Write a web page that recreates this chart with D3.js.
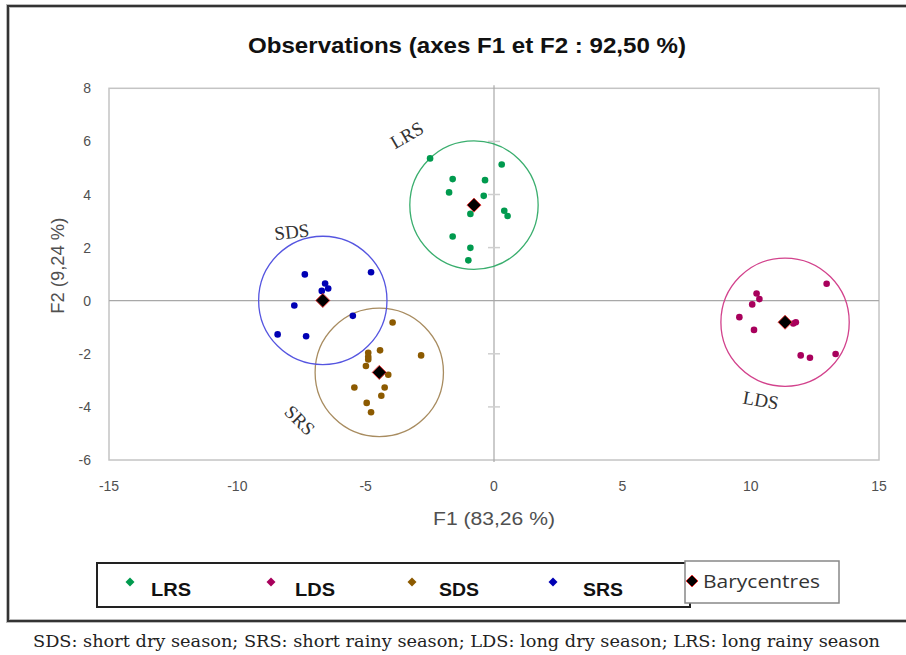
<!DOCTYPE html>
<html>
<head>
<meta charset="utf-8">
<script src="https://cdn.jsdelivr.net/npm/d3@7"></script>
<style>
  body { margin: 0; background: #fff; }
  svg { display: block; }
</style>
</head>
<body>
<div id="chart"></div>
<script>
// DATA (F1, F2 coordinates)
const groups = ['LRS', 'LDS', 'SDS', 'SRS'];

const lrsPoints = [
  [-2.49, 5.36], [0.30, 5.13], [-1.61, 4.58], [-0.35, 4.54], [-1.75, 4.08],
  [-0.40, 3.95], [-0.92, 3.27], [0.40, 3.39], [0.53, 3.19], [-1.61, 2.42],
  [-0.92, 1.99], [-1.00, 1.52]
];
const ldsPoints = [
  [12.96, 0.64], [10.23, 0.27], [10.34, 0.06], [10.06, -0.14], [9.56, -0.62],
  [10.13, -1.10], [11.76, -0.81], [11.66, -0.86], [11.95, -2.06], [12.31, -2.15],
  [13.31, -2.01]
];
const sdsPoints = [
  [-3.95, -0.82], [-4.44, -1.87], [-4.90, -1.96], [-4.90, -2.11], [-4.90, -2.21],
  [-2.84, -2.06], [-4.99, -2.46], [-4.12, -2.79], [-5.44, -3.27], [-4.26, -3.27],
  [-4.39, -3.58], [-4.96, -3.85], [-4.79, -4.20]
];
const srsPoints = [
  [-7.37, 0.99], [-4.79, 1.07], [-6.58, 0.65], [-6.46, 0.46], [-6.71, 0.37],
  [-7.78, -0.18], [-5.50, -0.57], [-8.43, -1.27], [-7.32, -1.34]
];
const barycentres = [[-0.78, 3.60], [11.34, -0.81], [-4.47, -2.70], [-6.67, 0.01]];
const circleRadius = 2.5; // in F1 units

// labels written next to the circles (as they appear on the picture)
const circleLabels = [
  { text: 'LRS', f1: -3.40, f2: 6.24, angle: -30 },
  { text: 'SDS', f1: -7.88, f2: 2.60, angle: -6 },
  { text: 'SRS', f1: -7.56, f2: -4.50, angle: 45 },
  { text: 'LDS', f1: 10.40, f2: -3.74, angle: 10 }
];

const xTicks = [-15, -10, -5, 0, 5, 10, 15];
const yTicks = [-6, -4, -2, 0, 2, 4, 6, 8];
const legendItems = ['LRS', 'LDS', 'SDS', 'SRS'];

const pointsByGroup = [lrsPoints, ldsPoints, sdsPoints, srsPoints];
const pointColors = ['#009a4e', '#a8005c', '#8c5a00', '#0000b4'];
const circleColors = ['#3aae6e', '#d2428c', '#a88c60', '#5555e0'];

const width = 906;
const height = 655;

const svg = d3
  .select('#chart')
  .append('svg')
  .attr('width', width)
  .attr('height', height);

// OUTER FRAME
svg
  .append('rect')
  .attr('x', 8)
  .attr('y', 6)
  .attr('width', width + 10)
  .attr('height', 615)
  .attr('fill', 'none')
  .attr('stroke', '#bbb')
  .attr('stroke-width', 4);
svg
  .append('rect')
  .attr('x', 8)
  .attr('y', 6)
  .attr('width', width + 10)
  .attr('height', 615)
  .attr('fill', 'none')
  .attr('stroke', '#333')
  .attr('stroke-width', 2);

// TITLE
svg
  .append('text')
  .attr('x', 467)
  .attr('y', 53)
  .attr('text-anchor', 'middle')
  .attr('font-family', 'Liberation Sans, Arial, sans-serif')
  .attr('font-weight', 'bold')
  .attr('font-size', 22)
  .attr('textLength', 438)
  .attr('lengthAdjust', 'spacingAndGlyphs')
  .attr('fill', '#111')
  .text('Observations (axes F1 et F2 : 92,50 %)');

// SCALES
const x = d3.scaleLinear().domain([-15, 15]).range([109, 879]);
const y = d3.scaleLinear().domain([-6, 8]).range([460, 88.3]);

const plot = svg.append('g');

// plot frame
plot
  .append('rect')
  .attr('x', x(-15))
  .attr('y', y(8))
  .attr('width', x(15) - x(-15))
  .attr('height', y(-6) - y(8))
  .attr('fill', 'none')
  .attr('stroke', '#c4c4c4')
  .attr('stroke-width', 1.5);

// zero lines
plot
  .append('line')
  .attr('x1', x(-15))
  .attr('x2', x(15))
  .attr('y1', y(0))
  .attr('y2', y(0))
  .attr('stroke', '#a8a8a8')
  .attr('stroke-width', 1.2);
plot
  .append('line')
  .attr('x1', x(0))
  .attr('x2', x(0))
  .attr('y1', y(8) - 3)
  .attr('y2', y(-6) + 2)
  .attr('stroke', '#a8a8a8')
  .attr('stroke-width', 1.2);

// small ticks on the vertical zero line
plot
  .selectAll('.ytick-mark')
  .data(yTicks.filter(d => d !== 0 && d !== 8 && d !== -6))
  .enter()
  .append('line')
  .attr('x1', x(0) - 6)
  .attr('x2', x(0) + 6)
  .attr('y1', d => y(d))
  .attr('y2', d => y(d))
  .attr('stroke', '#cfcfcf')
  .attr('stroke-width', 1.5);

// AXES LABELS
plot
  .selectAll('.ytick')
  .data(yTicks)
  .enter()
  .append('text')
  .attr('x', 91)
  .attr('y', d => y(d) + 5)
  .attr('text-anchor', 'end')
  .attr('font-family', 'Liberation Sans, Arial, sans-serif')
  .attr('font-size', 14)
  .attr('fill', '#505050')
  .text(d => d);

plot
  .selectAll('.xtick')
  .data(xTicks)
  .enter()
  .append('text')
  .attr('x', d => x(d))
  .attr('y', 491)
  .attr('text-anchor', 'middle')
  .attr('font-family', 'Liberation Sans, Arial, sans-serif')
  .attr('font-size', 14)
  .attr('fill', '#505050')
  .text(d => d);

plot
  .append('text')
  .attr('x', x(0))
  .attr('y', 525)
  .attr('text-anchor', 'middle')
  .attr('font-family', 'Liberation Sans, Arial, sans-serif')
  .attr('font-size', 18)
  .attr('textLength', 122)
  .attr('lengthAdjust', 'spacingAndGlyphs')
  .attr('fill', '#505050')
  .text('F1 (83,26 %)');

plot
  .append('text')
  .attr('transform', `translate(64, ${y(0) - 35}) rotate(-90)`)
  .attr('text-anchor', 'middle')
  .attr('font-family', 'Liberation Sans, Arial, sans-serif')
  .attr('font-size', 18)
  .attr('textLength', 96)
  .attr('lengthAdjust', 'spacingAndGlyphs')
  .attr('fill', '#505050')
  .text('F2 (9,24 %)');

// CIRCLES round each group
const rPx = x(circleRadius) - x(0);
plot
  .selectAll('.group-circle')
  .data(barycentres)
  .enter()
  .append('circle')
  .attr('cx', d => x(d[0]))
  .attr('cy', d => y(d[1]))
  .attr('r', rPx)
  .attr('fill', 'none')
  .attr('stroke', (d, i) => circleColors[i])
  .attr('stroke-width', 1.3);

// POINTS
groups.forEach((g, i) => {
  plot
    .append('g')
    .selectAll('circle')
    .data(pointsByGroup[i])
    .enter()
    .append('circle')
    .attr('cx', d => x(d[0]))
    .attr('cy', d => y(d[1]))
    .attr('r', 3.3)
    .attr('fill', pointColors[i]);
});

// BARYCENTRES
const diamond = s => `M0,${-s} L${s},0 L0,${s} L${-s},0 Z`;
plot
  .selectAll('.bary')
  .data(barycentres)
  .enter()
  .append('path')
  .attr('d', diamond(7))
  .attr('transform', d => `translate(${x(d[0])}, ${y(d[1])})`)
  .attr('fill', '#000')
  .attr('stroke', '#e23a3a')
  .attr('stroke-width', 1);

// circle labels
plot
  .selectAll('.clabel')
  .data(circleLabels)
  .enter()
  .append('text')
  .attr(
    'transform',
    d => `translate(${x(d.f1)}, ${y(d.f2)}) rotate(${d.angle})`
  )
  .attr('text-anchor', 'middle')
  .attr('dy', '0.35em')
  .attr('font-family', 'Liberation Serif, Times New Roman, serif')
  .attr('font-size', 19)
  .attr('fill', '#333')
  .text(d => d.text);

// LEGEND
const legend = svg.append('g');
legend
  .append('rect')
  .attr('x', 97)
  .attr('y', 563)
  .attr('width', 593)
  .attr('height', 44)
  .attr('fill', '#fff')
  .attr('stroke', '#222')
  .attr('stroke-width', 2);

legend
  .selectAll('.litem-mark')
  .data(legendItems)
  .enter()
  .append('path')
  .attr('d', diamond(4.5))
  .attr('transform', (d, i) => `translate(${130 + i * 141}, 582)`)
  .attr('fill', (d, i) => pointColors[i]);

legend
  .selectAll('.litem-text')
  .data(legendItems)
  .enter()
  .append('text')
  .attr('x', (d, i) => 151 + i * 144)
  .attr('y', 596)
  .attr('font-family', 'Liberation Sans, Arial, sans-serif')
  .attr('font-weight', 'bold')
  .attr('font-size', 18)
  .attr('textLength', 40)
  .attr('lengthAdjust', 'spacingAndGlyphs')
  .attr('fill', '#111')
  .text(d => d);

legend
  .append('rect')
  .attr('x', 685)
  .attr('y', 561)
  .attr('width', 154)
  .attr('height', 42)
  .attr('fill', '#fff')
  .attr('stroke', '#888')
  .attr('stroke-width', 1.5);

legend
  .append('path')
  .attr('d', diamond(6))
  .attr('transform', 'translate(692, 581)')
  .attr('fill', '#000')
  .attr('stroke', '#e23a3a')
  .attr('stroke-width', 1);

legend
  .append('text')
  .attr('x', 703)
  .attr('y', 588)
  .attr('font-family', 'Open Sans, Liberation Sans, sans-serif')
  .attr('font-size', 18)
  .attr('textLength', 117)
  .attr('lengthAdjust', 'spacingAndGlyphs')
  .attr('fill', '#333')
  .text('Barycentres');

// CAPTION
svg
  .append('text')
  .attr('x', 33)
  .attr('y', 647)
  .attr('font-family', 'DejaVu Serif, Liberation Serif, serif')
  .attr('font-size', 16)
  .attr('textLength', 847)
  .attr('lengthAdjust', 'spacingAndGlyphs')
  .attr('fill', '#222')
  .text('SDS: short dry season; SRS: short rainy season; LDS: long dry season; LRS: long rainy season');
</script>
</body>
</html>
